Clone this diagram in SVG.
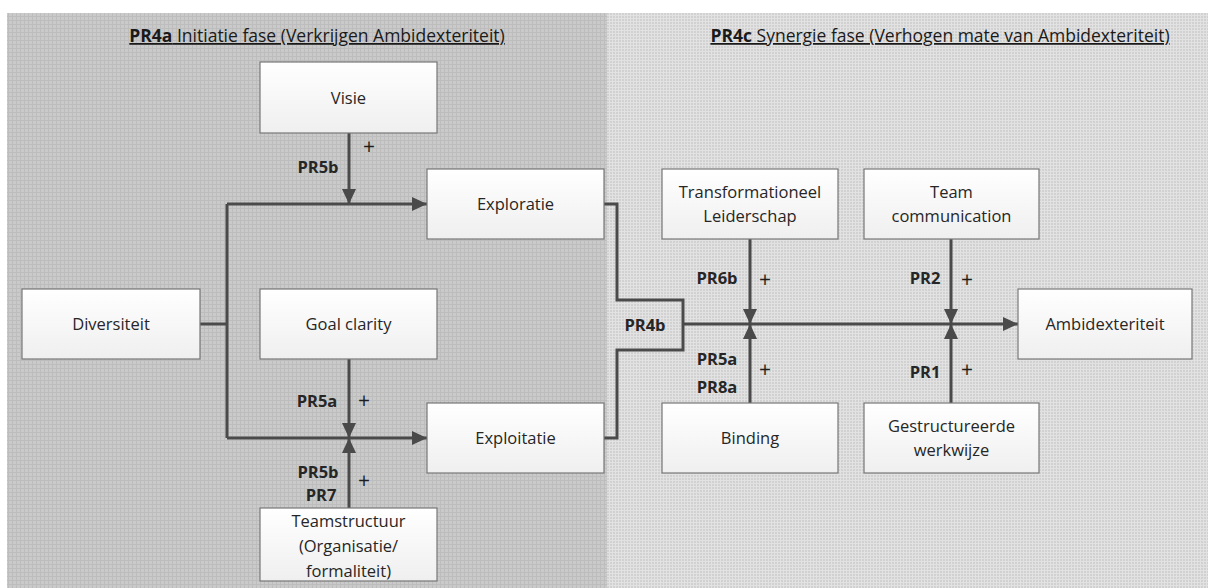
<svg xmlns="http://www.w3.org/2000/svg" width="1208" height="588" viewBox="0 0 1208 588">
<style>
.node rect{fill:url(#boxg);stroke:#777777;stroke-width:1.2}
.node text,.lbl{font-family:"Open Sans","Liberation Sans",sans-serif;font-size:16.5px;fill:#262626}
.lbl{text-anchor:middle}
.node text{text-anchor:middle}
.pr{font-weight:bold;font-size:16.5px}
.plus{font-size:21px;fill:#1e1e1e}
.title{font-family:"Open Sans","Liberation Sans",sans-serif;font-size:17.5px;fill:#1a1a1a;text-anchor:middle;text-decoration:underline}
.conn path{fill:none;stroke:#4a4a4a;stroke-width:3}
</style>
<defs>
<linearGradient id="boxg" x1="0" y1="0" x2="0" y2="1">
<stop offset="0" stop-color="#ffffff"/>
<stop offset="1" stop-color="#efefef"/>
</linearGradient>
<pattern id="gridL" width="4" height="4" patternUnits="userSpaceOnUse">
<rect width="4" height="4" fill="#cacaca"/>
<path d="M0 0.5H4M0.5 0V4" stroke="#bdbdbd" stroke-width="1"/>
</pattern>
<pattern id="gridR" width="3" height="3" patternUnits="userSpaceOnUse">
<rect width="3" height="3" fill="#d1d1d1"/>
<path d="M0 0.5H3M0.5 0V3" stroke="#e2e2e2" stroke-width="1"/>
</pattern>
<marker id="arr" markerUnits="userSpaceOnUse" markerWidth="16" markerHeight="14" refX="15" refY="7" orient="auto">
<path d="M0,0 L15,7 L0,14 z" fill="#4a4a4a"/>
</marker>
</defs>
<rect x="0" y="0" width="1208" height="588" fill="#ffffff"/>
<rect x="7" y="13" width="600" height="575" fill="url(#gridL)"/>
<rect x="607" y="13" width="601" height="575" fill="url(#gridR)"/>
<text class="title" x="317" y="42"><tspan font-weight="bold">PR4a</tspan> Initiatie fase (Verkrijgen Ambidexteriteit)</text>
<text class="title" x="940" y="42"><tspan font-weight="bold">PR4c</tspan> Synergie fase (Verhogen mate van Ambidexteriteit)</text>
<g class="conn" id="connectors">
<path d="M349,133 V204" marker-end="url(#arr)"/>
<path d="M200,324 H227"/>
<path d="M227,204 V438"/>
<path d="M227,204 H427" marker-end="url(#arr)"/>
<path d="M227,438 H427" marker-end="url(#arr)"/>
<path d="M349,359 V438" marker-end="url(#arr)"/>
<path d="M349,508 V438" marker-end="url(#arr)"/>
<path d="M604,204 H617 V300 H683 V350 H617 V438 H604"/>
<path d="M683,324 H1018" marker-end="url(#arr)"/>
<path d="M750,239 V324" marker-end="url(#arr)"/>
<path d="M750,403 V324" marker-end="url(#arr)"/>
<path d="M951,239 V324" marker-end="url(#arr)"/>
<path d="M951,403 V324" marker-end="url(#arr)"/>
</g>
<g id="labels">
<text class="lbl pr" x="318" y="173">PR5b</text>
<text class="lbl plus" x="369" y="154">+</text>
<text class="lbl pr" x="317" y="407">PR5a</text>
<text class="lbl plus" x="364" y="408">+</text>
<text class="lbl pr" x="318" y="478">PR5b</text>
<text class="lbl pr" x="321" y="501">PR7</text>
<text class="lbl plus" x="364" y="488">+</text>
<text class="lbl pr" x="645" y="331">PR4b</text>
<text class="lbl pr" x="717" y="284">PR6b</text>
<text class="lbl plus" x="765" y="287">+</text>
<text class="lbl pr" x="717" y="365">PR5a</text>
<text class="lbl pr" x="717" y="393">PR8a</text>
<text class="lbl plus" x="765" y="377">+</text>
<text class="lbl pr" x="925" y="284">PR2</text>
<text class="lbl plus" x="967" y="287">+</text>
<text class="lbl pr" x="925" y="378">PR1</text>
<text class="lbl plus" x="967" y="377">+</text>
</g>
<g class="node" id="visie"><rect x="260" y="62" width="177" height="71"/><text x="348.5" y="104">Visie</text></g>
<g class="node" id="exploratie"><rect x="427" y="169" width="177" height="70"/><text x="515.5" y="210">Exploratie</text></g>
<g class="node" id="diversiteit"><rect x="22" y="289" width="178" height="70"/><text x="111" y="330">Diversiteit</text></g>
<g class="node" id="goalclarity"><rect x="260" y="289" width="177" height="70"/><text x="348.5" y="330">Goal clarity</text></g>
<g class="node" id="exploitatie"><rect x="427" y="403" width="177" height="70"/><text x="515.5" y="444">Exploitatie</text></g>
<g class="node" id="teamstructuur"><rect x="260" y="508" width="177" height="73"/><text x="348.5" y="527">Teamstructuur</text><text x="348.5" y="552">(Organisatie/</text><text x="348.5" y="577">formaliteit)</text></g>
<g class="node" id="transformationeel"><rect x="662" y="169" width="176" height="70"/><text x="750" y="198">Transformationeel</text><text x="750" y="222">Leiderschap</text></g>
<g class="node" id="teamcomm"><rect x="864" y="169" width="175" height="70"/><text x="951.5" y="198">Team</text><text x="951.5" y="222">communication</text></g>
<g class="node" id="ambidexteriteit"><rect x="1018" y="289" width="174" height="70"/><text x="1105" y="330">Ambidexteriteit</text></g>
<g class="node" id="binding"><rect x="662" y="403" width="176" height="70"/><text x="750" y="444">Binding</text></g>
<g class="node" id="gestructureerde"><rect x="864" y="403" width="175" height="70"/><text x="951.5" y="432">Gestructureerde</text><text x="951.5" y="456">werkwijze</text></g>
</svg>
